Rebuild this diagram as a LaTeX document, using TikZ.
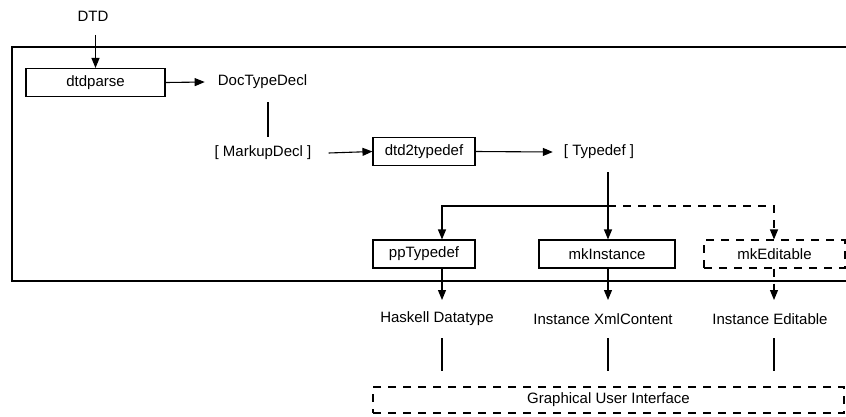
\documentclass[tikz,border=0pt]{standalone}
\usepackage{fontspec}
\setmainfont{Liberation Sans}
\usetikzlibrary{arrows.meta,calc}
\tikzset{
  lbl/.style={inner sep=0pt, font=\fontsize{15}{18}\selectfont},
  fnbox/.style={draw, line width=1.1pt, minimum height=28pt, inner sep=0pt, font=\fontsize{15}{18}\selectfont},
  dbox/.style={fnbox, dash pattern=on 8pt off 7pt},
  flow/.style={line width=1.1pt, -{Triangle[length=10pt,width=8pt]}},
  plain/.style={line width=1.1pt},
  dflow/.style={flow, dash pattern=on 8pt off 7pt},
}
\begin{document}
\begin{tikzpicture}[x=1pt,y=-1pt]
\useasboundingbox (0,0) rectangle (846,416);

% outer frame (runs past the right edge)
\draw[line width=1.4pt] (880,47) -- (12,47) -- (12,281) -- (880,281);

% top row
\node[lbl] (dtd) at (93,16) {DTD};
\node[fnbox, minimum width=139pt] (dtdparse) at (95.5,82.5) {dtdparse};
\node[lbl] (doctype) at (262.5,82) {DocTypeDecl};
\node[lbl] (markup) at (263,153) {[ MarkupDecl ]};
\node[fnbox, minimum width=102pt] (dtd2typedef) at (424,151.5) {dtd2typedef};
\node[lbl] (typedef) at (599,152) {[ Typedef ]};

% generators
\node[fnbox, minimum width=102pt] (pp) at (424,254) {ppTypedef};
\node[fnbox, minimum width=136pt] (mkinst) at (607,254) {mkInstance};
\node[dbox, minimum width=141pt] (mked) at (774.5,254) {mkEditable};

% outputs
\node[lbl] (haskell) at (437,319) {Haskell Datatype};
\node[lbl] (instxml) at (603,319) {Instance XmlContent};
\node[lbl] (insted) at (770,319) {Instance Editable};
\node[dbox, minimum width=471pt, minimum height=26pt] (gui) at (608.5,400) {Graphical User Interface};

% parse stage
\draw[flow] ([yshift=33pt]dtdparse.north) -- (dtdparse.north);
\draw[flow] (dtdparse.east) -- ([xshift=-13pt]doctype.west);
\coordinate (dA) at (268,102);
\coordinate (dB) at (268,137);
\draw[plain] (dA) -- (dB);
\draw[flow] ([xshift=17pt]markup.east) -- (dtd2typedef.west);
\draw[flow] (dtd2typedef.east) -- ([xshift=-11pt]typedef.west);

% fan-out of the typedefs
\coordinate (tTop) at (608,172);
\coordinate (fork) at (608,206);
\coordinate (fL) at (442,206);
\coordinate (fR) at (774,206);
\draw[flow] (tTop) -- (mkinst.north -| tTop);
\draw[flow] (fork) -- (fL) -- (pp.north -| fL);
\draw[dflow] (fork) -- (fR) -- (mked.north -| fR);

% generator outputs
\coordinate (oL) at (442,300);
\coordinate (oM) at (608,300);
\coordinate (oR) at (774,300);
\draw[flow] (pp.south -| oL) -- (oL);
\draw[flow] (mkinst.south -| oM) -- (oM);
\draw[dflow] (mked.south -| oR) -- (oR);

% links into the interface
\foreach \x in {442,608,774} {
  \draw[plain] (\x,338) -- (\x,371);
}
\end{tikzpicture}
\end{document}
